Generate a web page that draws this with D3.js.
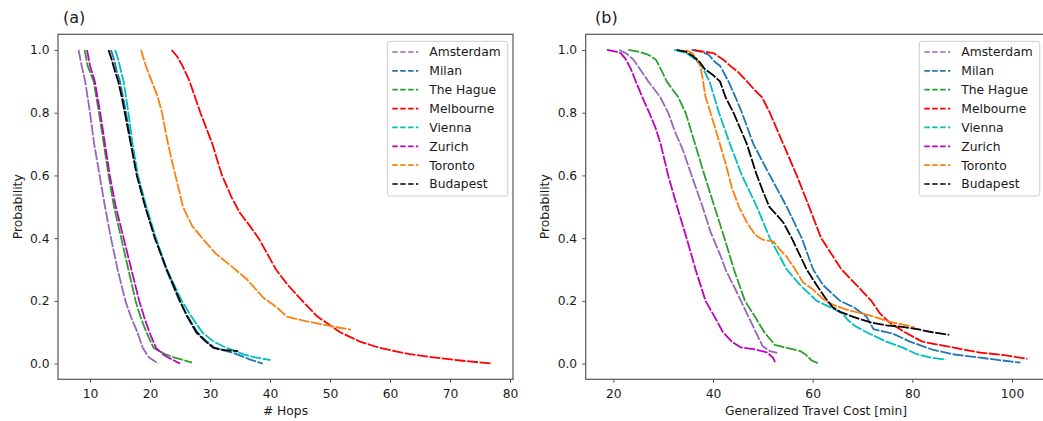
<!DOCTYPE html>
<html><head><meta charset="utf-8">
<script src="https://cdn.jsdelivr.net/npm/d3@7"></script>
<style>body{margin:0;background:#fff}svg{display:block}</style>
</head><body><svg id="c" width="1043" height="421"></svg>
<script>
// ---------------- data ----------------
const cities = ["Amsterdam","Milan","The Hague","Melbourne","Vienna","Zurich","Toronto","Budapest"];
const cityColors = ["#9467bd","#1f77b4","#2ca02c","#ff0000","#00bfbf","#bf00bf","#ff7f0e","#000000"];
const hopsTicks = [10,20,30,40,50,60,70,80];
const costTicks = [20,40,60,80,100];
const probTicks = [0,0.2,0.4,0.6,0.8,1.0];

// panel (a): [# hops, probability]
const hops_Amsterdam = [[8.1,1.0],[8.6,0.95],[9.2,0.9],[10.0,0.8],[10.7,0.7],[11.6,0.6],[12.5,0.5],[13.5,0.4],[14.6,0.3],[15.9,0.2],[16.8,0.15],[17.9,0.1],[18.8,0.05],[19.8,0.02],[21.4,0.0]];
const hops_Milan = [[13.5,1.0],[14.0,0.97],[14.5,0.93],[15.0,0.9],[15.5,0.85],[16.0,0.8],[16.9,0.7],[17.9,0.6],[19.3,0.5],[20.9,0.4],[22.7,0.3],[24.9,0.2],[26.3,0.15],[27.9,0.1],[29.5,0.07],[30.8,0.05],[33.9,0.034],[36.7,0.013],[38.8,0.0]];
const hops_TheHague = [[9.1,1.0],[9.6,0.95],[10.6,0.9],[11.5,0.8],[12.3,0.7],[13.1,0.6],[14.0,0.5],[15.2,0.4],[16.4,0.3],[17.6,0.2],[18.4,0.15],[19.4,0.1],[20.6,0.05],[22.5,0.03],[24.0,0.02],[27.0,0.003]];
const hops_Melbourne = [[23.6,1.0],[24.5,0.98],[25.4,0.95],[26.6,0.9],[28.4,0.8],[30.4,0.7],[32.0,0.6],[33.6,0.53],[35.0,0.48],[36.6,0.44],[38.1,0.4],[41.0,0.3],[43.0,0.25],[45.4,0.2],[47.9,0.15],[51.7,0.1],[55.0,0.07],[58.3,0.05],[63.3,0.03],[67.2,0.02],[71.7,0.01],[77.0,0.0]];
const hops_Vienna = [[14.2,1.0],[14.7,0.97],[15.2,0.93],[15.6,0.9],[16.0,0.85],[16.4,0.8],[17.1,0.7],[18.0,0.6],[19.4,0.5],[21.0,0.4],[22.8,0.3],[25.3,0.2],[26.9,0.15],[28.7,0.1],[30.6,0.07],[32.8,0.05],[35.5,0.03],[37.5,0.02],[40.1,0.011]];
const hops_Zurich = [[9.5,1.0],[10.0,0.95],[10.8,0.9],[11.7,0.8],[12.5,0.7],[13.3,0.6],[14.3,0.5],[15.6,0.4],[16.9,0.3],[18.2,0.2],[19.0,0.15],[19.9,0.1],[21.0,0.05],[22.5,0.025],[25.0,0.0]];
const hops_Toronto = [[18.5,1.0],[19.3,0.95],[20.3,0.9],[21.3,0.85],[22.0,0.8],[22.8,0.72],[23.6,0.65],[24.5,0.58],[25.5,0.5],[27.0,0.44],[28.7,0.4],[31.0,0.35],[33.6,0.31],[36.1,0.27],[38.9,0.21],[41.1,0.18],[42.8,0.15],[46.1,0.135],[50.0,0.12],[53.5,0.108]];
const hops_Budapest = [[13.1,1.0],[13.6,0.97],[14.2,0.93],[14.7,0.9],[15.3,0.85],[15.8,0.8],[16.8,0.7],[17.8,0.6],[19.2,0.5],[20.8,0.4],[22.8,0.3],[25.0,0.2],[26.2,0.15],[27.7,0.1],[29.3,0.07],[30.6,0.05],[32.5,0.043],[34.7,0.04]];

// panel (b): [generalized travel cost (min), probability]
const cost_Amsterdam = [[21.2,1.0],[22.5,0.99],[24.0,0.97],[25.3,0.94],[27.0,0.9],[29.4,0.85],[31.0,0.8],[32.6,0.73],[34.0,0.68],[35.7,0.6],[37.9,0.5],[39.5,0.42],[41.6,0.34],[42.5,0.3],[44.7,0.23],[46.2,0.18],[48.0,0.12],[49.2,0.08],[50.0,0.055],[51.4,0.04],[52.9,0.034]];
const cost_Milan = [[35.7,1.0],[37.5,0.995],[39.1,0.985],[40.5,0.96],[41.4,0.95],[43.1,0.9],[44.5,0.85],[45.8,0.8],[48.1,0.7],[51.4,0.6],[54.8,0.5],[57.8,0.4],[60.1,0.3],[62.1,0.25],[65.5,0.2],[68.2,0.18],[70.8,0.15],[72.2,0.11],[76.2,0.095],[79.5,0.07],[84.0,0.045],[88.0,0.03],[94.0,0.018],[101.7,0.003]];
const cost_TheHague = [[23.0,1.0],[25.0,0.995],[27.0,0.985],[28.5,0.97],[29.5,0.94],[30.7,0.9],[33.0,0.85],[34.5,0.8],[36.4,0.7],[38.3,0.6],[40.3,0.5],[42.3,0.4],[44.2,0.3],[46.4,0.2],[48.4,0.15],[50.3,0.1],[52.4,0.06],[54.8,0.05],[57.5,0.04],[58.5,0.03],[59.8,0.01],[61.3,0.0]];
const cost_Melbourne = [[36.1,1.0],[38.0,0.995],[40.1,0.99],[42.0,0.97],[43.4,0.95],[45.0,0.93],[46.8,0.9],[48.5,0.87],[49.8,0.85],[51.4,0.8],[54.1,0.7],[56.8,0.6],[58.8,0.52],[61.7,0.4],[65.8,0.3],[68.8,0.25],[71.8,0.2],[73.5,0.16],[75.5,0.13],[78.5,0.1],[82.0,0.07],[87.0,0.055],[93.6,0.035],[98.0,0.028],[103.1,0.015]];
const cost_Vienna = [[32.2,1.0],[34.7,0.99],[36.4,0.97],[37.7,0.95],[39.3,0.9],[41.2,0.8],[43.4,0.7],[45.8,0.6],[48.8,0.5],[51.4,0.4],[54.8,0.3],[57.5,0.25],[60.8,0.2],[63.5,0.18],[66.0,0.16],[67.0,0.14],[68.5,0.12],[70.8,0.1],[74.8,0.07],[78.2,0.05],[80.9,0.03],[83.5,0.02],[86.7,0.013]];
const cost_Zurich = [[18.7,1.0],[20.5,0.995],[21.5,0.99],[22.5,0.97],[23.5,0.94],[24.5,0.9],[25.8,0.85],[27.2,0.8],[28.5,0.75],[29.5,0.7],[31.0,0.6],[32.8,0.5],[34.7,0.4],[36.5,0.3],[38.5,0.2],[40.3,0.15],[42.0,0.1],[43.8,0.07],[45.5,0.052],[48.5,0.045],[50.8,0.036],[52.0,0.02],[52.6,0.0]];
const cost_Toronto = [[34.5,1.0],[35.8,0.99],[36.8,0.97],[37.4,0.95],[37.8,0.92],[38.5,0.85],[39.5,0.8],[41.0,0.72],[42.5,0.64],[43.8,0.56],[45.2,0.5],[46.8,0.45],[48.5,0.41],[50.0,0.395],[52.1,0.39],[53.6,0.36],[54.8,0.34],[56.5,0.3],[58.0,0.26],[60.1,0.236],[62.5,0.2],[64.5,0.185],[66.8,0.172],[69.5,0.162],[72.2,0.15],[75.0,0.135],[78.0,0.125],[80.5,0.115]];
const cost_Budapest = [[32.7,1.0],[34.5,0.995],[36.0,0.98],[37.4,0.96],[38.3,0.94],[40.0,0.92],[41.4,0.9],[42.5,0.85],[44.1,0.8],[46.8,0.7],[48.8,0.6],[50.0,0.55],[51.3,0.5],[53.0,0.47],[54.1,0.45],[55.8,0.4],[58.8,0.3],[60.8,0.25],[62.5,0.21],[64.0,0.18],[65.5,0.165],[68.0,0.15],[71.5,0.132],[74.8,0.122],[78.0,0.117],[81.0,0.11],[84.0,0.1],[87.4,0.092]];

const hopsSeries = [hops_Amsterdam,hops_Milan,hops_TheHague,hops_Melbourne,hops_Vienna,hops_Zurich,hops_Toronto,hops_Budapest];
const costSeries = [cost_Amsterdam,cost_Milan,cost_TheHague,cost_Melbourne,cost_Vienna,cost_Zurich,cost_Toronto,cost_Budapest];

// ---------------- drawing ----------------
const svg = d3.select("#c");
svg.append("rect").attr("width",1043).attr("height",421).attr("fill","#fff");
const FONT = "DejaVu Sans, Liberation Sans, sans-serif";
const FS = 12.3;
const TXT = "#1a1a1a";
const SPINE = "#555";

function panel(opt){
  const g = svg.append("g");
  const x = d3.scaleLinear().domain(opt.xDomain).range([opt.left, opt.right]);
  const y = d3.scaleLinear().domain([-0.05,1.05]).range([opt.bottom, opt.top]);

  const clipId = "clip"+opt.tag;
  svg.append("clipPath").attr("id",clipId).append("rect")
    .attr("x",opt.left).attr("y",opt.top).attr("width",opt.right-opt.left).attr("height",opt.bottom-opt.top);

  const line = d3.line().x(d=>x(d[0])).y(d=>y(d[1]));
  const cg = g.append("g").attr("clip-path",`url(#${clipId})`);
  opt.series.forEach((s,i)=>{
    cg.append("path").datum(s).attr("d",line)
      .attr("fill","none").attr("stroke",cityColors[i])
      .attr("stroke-width",1.8).attr("stroke-dasharray","11,1.6")
      .attr("stroke-linejoin","round");
  });

  // axes
  const xa = g.append("g").attr("transform",`translate(0,${opt.bottom})`)
    .call(d3.axisBottom(x).tickValues(opt.xTicks).tickFormat(d3.format("d")).tickSize(3.5).tickPadding(6));
  const ya = g.append("g").attr("transform",`translate(${opt.left},0)`)
    .call(d3.axisLeft(y).tickValues(probTicks).tickFormat(d3.format(".1f")).tickSize(3.5).tickPadding(5));
  [xa,ya].forEach(a=>{
    a.select(".domain").remove();
    a.selectAll("line").attr("stroke",SPINE).attr("stroke-width",1);
    a.selectAll("text").attr("font-family",FONT).attr("font-size",FS).attr("fill",TXT);
  });

  // frame
  g.append("rect").attr("x",opt.left).attr("y",opt.top)
    .attr("width",opt.right-opt.left).attr("height",opt.bottom-opt.top)
    .attr("fill","none").attr("stroke",SPINE).attr("stroke-width",1.2);

  // labels
  g.append("text").attr("x",(opt.left+opt.right)/2).attr("y",415)
    .attr("text-anchor","middle").attr("font-family",FONT).attr("font-size",FS).attr("fill",TXT)
    .text(opt.xLabel);
  g.append("text").attr("transform",`translate(${opt.yLabelX},${(opt.top+opt.bottom)/2}) rotate(-90)`)
    .attr("text-anchor","middle").attr("font-family",FONT).attr("font-size",FS).attr("fill",TXT)
    .text("Probability");
  g.append("text").attr("x",opt.titleX).attr("y",23)
    .attr("font-family",FONT).attr("font-size",16).attr("fill",TXT).text(opt.title);

  // legend
  const lg = g.append("g");
  lg.append("rect").attr("x",opt.legX).attr("y",41.3).attr("width",120.5).attr("height",154.7)
    .attr("rx",2.5).attr("fill","#fff").attr("fill-opacity",0.8)
    .attr("stroke","#cccccc").attr("stroke-width",1);
  cities.forEach((c,i)=>{
    const yy = 52 + i*18.86;
    lg.append("line").attr("x1",opt.legX+5).attr("x2",opt.legX+31).attr("y1",yy).attr("y2",yy)
      .attr("stroke",cityColors[i]).attr("stroke-width",1.7).attr("stroke-dasharray","5.5,2.4");
    lg.append("text").attr("x",opt.legX+42).attr("y",yy).attr("dy","0.36em")
      .attr("font-family",FONT).attr("font-size",FS).attr("fill",TXT).text(c);
  });
}

panel({tag:"a", left:58, right:513, top:34.3, bottom:379.3,
  xDomain:[4.667,80.5], xTicks:hopsTicks, series:hopsSeries,
  xLabel:"# Hops", yLabelX:21.5, title:"(a)", titleX:63, legX:387.3});
panel({tag:"b", left:585.7, right:1046.4, top:34.3, bottom:379.3,
  xDomain:[14.45,106.9], xTicks:costTicks, series:costSeries,
  xLabel:"Generalized Travel Cost [min]", yLabelX:548.5, title:"(b)", titleX:595, legX:919.3});
</script>
</body></html>
